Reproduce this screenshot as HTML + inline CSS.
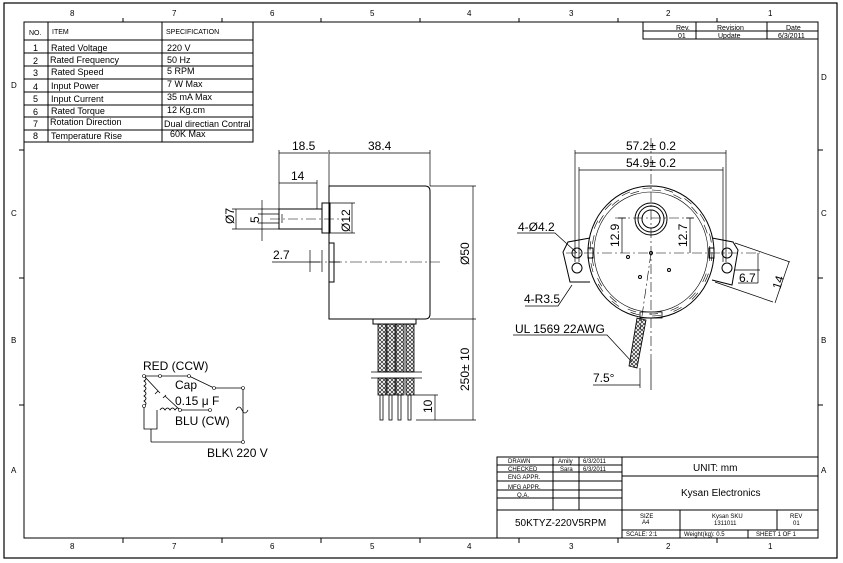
<!DOCTYPE html>
<html><head><meta charset="utf-8"><style>
html,body{margin:0;padding:0;background:#fff;}
svg{display:block;font-family:"Liberation Sans",sans-serif;}
</style></head><body>
<svg width="843" height="563" viewBox="0 0 843 563" xmlns="http://www.w3.org/2000/svg">
<defs>
<pattern id="hx" width="4" height="4" patternUnits="userSpaceOnUse"><path d="M0,0L4,4M4,0L0,4" stroke="#222" stroke-width="0.7"/></pattern>
</defs>
<g fill="none" stroke="#000" stroke-width="1">
<rect x="4" y="3" width="833" height="555" stroke-width="1.2"/>
<rect x="24" y="22" width="794" height="516"/>
<path d="M123,18V22M222,18V22M321,18V22M420,18V22M519,18V22M618,18V22M717,18V22"/>
<path d="M123,538V543M222,538V543M321,538V543M420,538V543M519,538V543M618,538V543M717,538V543"/>
<path d="M19,150H24M19,278H24M19,405H24M818,150H823M818,278H823M818,405H823"/>
<rect x="24" y="22" width="229" height="120"/>
<path d="M48,22V142M162,22V142M24,40H253M24,53H253M24,66H253M24,79H253M24,92H253M24,105H253M24,117H253M24,130H253"/>
<rect x="643" y="22" width="175" height="17"/>
<path d="M696,22V39M767,22V39M643,31H818"/>
<rect x="497" y="457" width="321" height="81"/>
<path d="M497,465H622M497,472H622M497,481H622M497,490H622M497,498H622M497,510H818M622,457V538M553,457V510M579,457V510M622,476H818M680,510V538M777,510V530M622,530H818M748,530V538"/>
</g>
<g font-size="8" fill="#000">
<text x="70" y="16">8</text><text x="172" y="16">7</text><text x="270" y="16">6</text><text x="370" y="16">5</text><text x="467" y="16">4</text><text x="569" y="16">3</text><text x="666" y="16">2</text><text x="768" y="16">1</text>
<text x="70" y="549">8</text><text x="172" y="549">7</text><text x="270" y="549">6</text><text x="370" y="549">5</text><text x="467" y="549">4</text><text x="569" y="549">3</text><text x="666" y="549">2</text><text x="768" y="549">1</text>
<text x="11" y="88">D</text><text x="11" y="216">C</text><text x="11" y="343">B</text><text x="11" y="473">A</text>
<text x="821" y="80">D</text><text x="821" y="216">C</text><text x="821" y="343">B</text><text x="821" y="473">A</text>
</g>
<g font-size="7" fill="#000">
<text x="29" y="35">NO.</text><text x="52" y="34">ITEM</text><text x="166" y="34">SPECIFICATION</text>
<text x="676" y="30">Rev.</text><text x="717" y="30">Revision</text><text x="786" y="30">Date</text>
<text x="678" y="38">01</text><text x="718" y="38">Update</text><text x="778" y="38">6/3/2011</text>
<text x="508" y="463" font-size="6">DRAWN</text><text x="558" y="463" font-size="6">Amily</text><text x="583" y="463" font-size="6">6/3/2011</text>
<text x="508" y="471" font-size="6">CHECKED</text><text x="560" y="471" font-size="6">Sara</text><text x="583" y="471" font-size="6">6/3/2011</text>
<text x="508" y="479" font-size="6">ENG APPR.</text><text x="508" y="489" font-size="6">MFG APPR.</text><text x="517" y="497" font-size="6">Q.A.</text>
<text x="640" y="518" font-size="6">SIZE</text><text x="642" y="524" font-size="6">A4</text>
<text x="712" y="518" font-size="6">Kysan SKU</text><text x="714" y="525" font-size="6">1311011</text>
<text x="790" y="518" font-size="6">REV</text><text x="793" y="525" font-size="6">01</text>
<text x="626" y="536" font-size="6">SCALE: 2:1</text><text x="684" y="536" font-size="6">Weight(kg): 0.5</text><text x="756" y="536" font-size="6">SHEET 1 OF 1</text>
</g>
<g font-size="9" fill="#000">
<text x="33" y="51">1</text><text x="51" y="51">Rated Voltage</text><text x="167" y="51">220 V</text>
<text x="33" y="64">2</text><text x="50" y="63">Rated Frequency</text><text x="167" y="63">50 Hz</text>
<text x="33" y="76">3</text><text x="51" y="75">Rated Speed</text><text x="167" y="74">5 RPM</text>
<text x="33" y="90">4</text><text x="51" y="89">Input Power</text><text x="167" y="87">7 W  Max</text>
<text x="33" y="102">5</text><text x="51" y="102">Input Current</text><text x="167" y="100">35 mA  Max</text>
<text x="33" y="115">6</text><text x="51" y="114">Rated Torque</text><text x="167" y="113">12 Kg.cm</text>
<text x="33" y="127">7</text><text x="50" y="125">Rotation Direction</text><text x="164" y="127">Dual directian Contral</text>
<text x="33" y="139">8</text><text x="51" y="139">Temperature Rise</text><text x="170" y="137">60K  Max</text>
<text x="693" y="471" font-size="10">UNIT: mm</text>
<text x="681" y="496" font-size="10">Kysan Electronics</text>
<text x="515" y="526" font-size="10">50KTYZ-220V5RPM</text>
</g>
<g fill="none" stroke="#000" stroke-width="1">
<path d="M329,186H425Q430,186 430,191V314Q430,319 425,319H329Z"/>
<rect x="279" y="209" width="43" height="20"/>
<rect x="322" y="203" width="8" height="30"/>
<rect x="329" y="243" width="5" height="39"/>
<path d="M279,153H328M329,153H430M279,150V225M329,150V186M430,150V186" stroke-width="0.7"/>
<path d="M279,183H317M317,180V209" stroke-width="0.7"/>
<path d="M236,209V229M232,209H279M232,229H279M262,200V241M258,214H279M258,223H279M282,214V223" stroke-width="0.7"/>
<path d="M330,203H355M330,233H355M352,203V233" stroke-width="0.7"/>
<path d="M272,262H320M310,250V272M322,250V272M329,262H340" stroke-width="0.7"/>
<path d="M430,186H476M430,319H476M473,186V319M473,319V420M416,420H476M435,395V420M414,395H438" stroke-width="0.7"/>
<path d="M270,219H345" stroke-dasharray="10,3,2,3" stroke-width="0.6"/>
<path d="M310,262H440" stroke-dasharray="12,3,2,3" stroke-width="0.6"/>
<rect x="373" y="319" width="43" height="5"/>
</g>
<g stroke="#000" stroke-width="0.8">
<rect x="378" y="324" width="8" height="48" fill="url(#hx)"/><rect x="387" y="324" width="8" height="48" fill="url(#hx)"/><rect x="396" y="324" width="8" height="48" fill="url(#hx)"/><rect x="406" y="324" width="8" height="48" fill="url(#hx)"/>
<rect x="378" y="378" width="8" height="17" fill="url(#hx)"/><rect x="387" y="378" width="8" height="17" fill="url(#hx)"/><rect x="396" y="378" width="8" height="17" fill="url(#hx)"/><rect x="406" y="378" width="8" height="17" fill="url(#hx)"/>
<path d="M371,372H422M371,378H422" fill="none"/>
<rect x="380" y="395" width="3" height="25" fill="none"/><rect x="389" y="395" width="3" height="25" fill="none"/><rect x="398" y="395" width="3" height="25" fill="none"/><rect x="408" y="395" width="3" height="25" fill="none"/>
</g>
<g font-size="12" fill="#000">
<text x="292" y="150">18.5</text><text x="368" y="150">38.4</text><text x="291" y="180">14</text>
<text x="273" y="259">2.7</text>
<text transform="translate(234,224) rotate(-90)">Ø7</text>
<text transform="translate(259,223) rotate(-90)">5</text>
<text transform="translate(350,232) rotate(-90)">Ø12</text>
<text transform="translate(469,265) rotate(-90)">Ø50</text>
<text transform="translate(469,391) rotate(-90)">250± 10</text>
<text transform="translate(432,413) rotate(-90)">10</text>
</g>
<g fill="none" stroke="#000" stroke-width="1">
<path d="M590,238L568,242L563,252L570,282L590,282M712,238L733,242L738,250L732,285L712,280"/>
<ellipse cx="651" cy="252" rx="63" ry="66"/>
<ellipse cx="651" cy="252" rx="57" ry="60" stroke-width="0.6"/>
<ellipse cx="651" cy="252" rx="61" ry="64" stroke-width="0.6" stroke-dasharray="9,13"/>
<ellipse cx="651" cy="252" rx="59" ry="62" stroke-width="0.6" stroke-dasharray="9,13"/>
<circle cx="651" cy="219" r="16"/><circle cx="651" cy="219" r="13"/><circle cx="651" cy="219" r="9"/>
<circle cx="577" cy="253" r="5"/><circle cx="577" cy="268" r="5"/><circle cx="727" cy="253" r="5"/><circle cx="727" cy="268" r="5"/>
<rect x="588" y="248" width="5" height="10"/><rect x="709" y="248" width="5" height="10"/>
<circle cx="628" cy="257" r="1.5"/><circle cx="640" cy="277" r="1.5"/><circle cx="669" cy="270" r="1.5"/><circle cx="651" cy="253" r="1.5"/>
<path d="M640,312H662V318H640Z" stroke-width="0.8"/>
<path d="M575,153H726M575,150V262M726,150V262M579,170H723M579,167V262M723,167V262" stroke-width="0.7"/>
<path d="M622,218V253M618,218H626M690,218V253M686,218H694" stroke-width="0.7"/>
<path d="M735,243L790,262M715,282L773,302M789,262L775,303M758,253V270M735,270H760M738,283H758M758,270V283" stroke-width="0.7"/>
<path d="M517,233H555L577,253M525,306H558L572,285M513,335H607L632,362M593,385H640M640,368V388M651,360V390" stroke-width="0.7"/>
<path d="M566,253H760M651,138V360M615,218H693M651,253L640,330" stroke-dasharray="10,3,2,3" stroke-width="0.6"/>
</g>
<path d="M637,318L646,320L637,368L629,366Z" fill="url(#hx)" stroke="#000" stroke-width="0.8"/>
<g font-size="12" fill="#000">
<text x="626" y="150">57.2± 0.2</text><text x="626" y="167">54.9± 0.2</text>
<text x="518" y="231">4-Ø4.2</text><text x="524" y="303">4-R3.5</text><text x="515" y="333">UL 1569 22AWG</text>
<text x="593" y="382">7.5°</text><text x="739" y="282">6.7</text>
<text transform="translate(619,247) rotate(-90)">12.9</text>
<text transform="translate(687,247) rotate(-90)">12.7</text>
<text transform="translate(780,290) rotate(-72)">14</text>
</g>
<g fill="none" stroke="#000" stroke-width="0.8">
<path d="M144,376H189M189,376L214,388H243V442M151,442H243M151,429V442M144,406V429H157V410"/>
<path d="M144,376q4,2.5 0,5q4,2.5 0,5q4,2.5 0,5q4,2.5 0,5q4,2.5 0,5q4,2.5 0,5"/>
<path d="M160,410q2.5,-4 5,0q2.5,-4 5,0q2.5,-4 5,0q2.5,-4 5,0M180,410H210M144,376L160,393M158,391l-3,3M165,396L180,410M163,398l3,-3"/>
<path d="M236,410q3,-6 6,0t6,0"/>
</g>
<g fill="#fff" stroke="#000" stroke-width="0.6"><circle cx="144" cy="376" r="1.5"/><circle cx="160" cy="376" r="1.5"/><circle cx="189" cy="376" r="1.5"/><circle cx="214" cy="388" r="1.5"/><circle cx="243" cy="388" r="1.5"/><circle cx="144" cy="406" r="1.5"/><circle cx="180" cy="410" r="1.5"/><circle cx="210" cy="410" r="1.5"/><circle cx="243" cy="442" r="1.5"/></g>
<g font-size="12" fill="#000">
<text x="143" y="370">RED (CCW)</text><text x="175" y="389">Cap</text><text x="175" y="405">0.15 μ F</text>
<text x="175" y="425">BLU (CW)</text><text x="207" y="457">BLK\ 220 V</text>
</g>
</svg>
</body></html>
